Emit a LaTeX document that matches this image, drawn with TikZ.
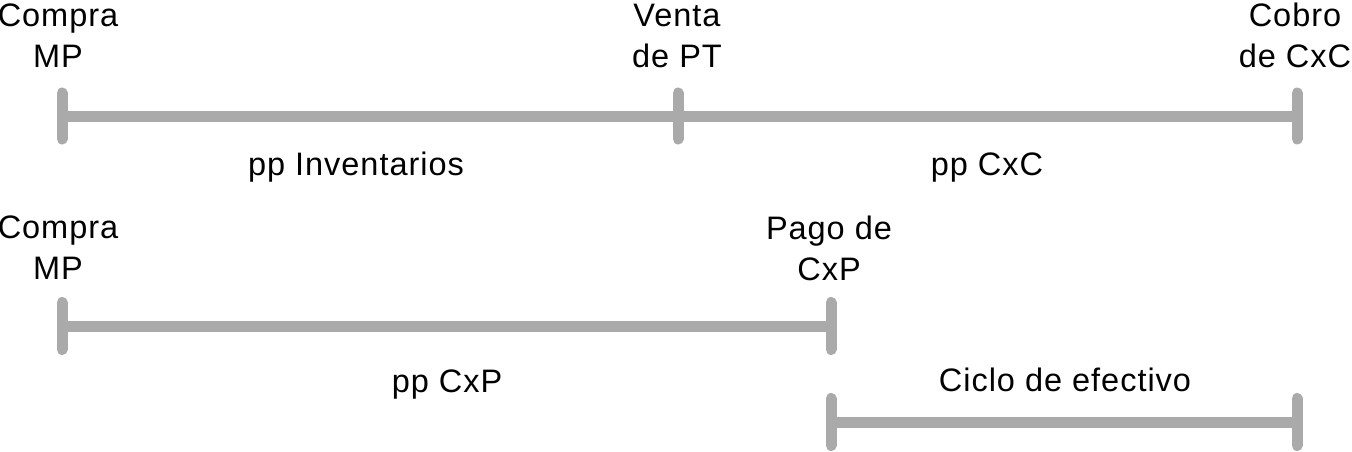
\documentclass[tikz,border=0pt]{standalone}
\usepackage{fontspec}
\setmainfont[LetterSpace=3]{Liberation Sans}
\begin{document}
\begin{tikzpicture}[x=1pt,y=-1pt,
  bar/.style={draw=barcol,line width=11pt,line cap=butt},
  tick/.style={draw=barcol,line width=11pt,line cap=round},
  lbl/.style={inner sep=0pt,align=center,anchor=base,
    font=\fontsize{32.5}{41}\selectfont}]
\definecolor{barcol}{RGB}{170,170,170}
\useasboundingbox (0,0) rectangle (1352,452);
% coordinates
\coordinate (a1) at (62,116);
\coordinate (a2) at (678,116);
\coordinate (a3) at (1297,116);
\coordinate (b1) at (62,326);
\coordinate (b2) at (831,326);
\coordinate (c1) at (831,422);
\coordinate (c2) at (1297,422);
% bars
\draw[bar] (a1) -- (a3);
\draw[bar] (b1) -- (b2);
\draw[bar] (c1) -- (c2);
% ticks
\foreach \p in {a1,a2,a3}{
  \draw[tick] ([yshift=-23pt]\p) -- ([yshift=23pt]\p);}
\foreach \p in {b1,b2,c1,c2}{
  \draw[tick] ([yshift=-23.5pt]\p) -- ([yshift=23.5pt]\p);}
% labels (base = baseline of last line)
\node[lbl] (t1) at (58,68) {Compra\\MP};
\node[lbl] (t2) at (677,68) {Venta\\de PT};
\node[lbl] (t3) at (1295,68) {Cobro\\de CxC};
\node[lbl] (t4) at (356,175) {pp Inventarios};
\node[lbl] (t5) at (987,175) {pp CxC};
\node[lbl] (t6) at (58,279) {Compra\\MP};
\node[lbl] (t7) at (829,280) {Pago de\\CxP};
\node[lbl] (t8) at (447,392) {pp CxP};
\node[lbl] (t9) at (1065,391) {Ciclo de efectivo};
\end{tikzpicture}
\end{document}
